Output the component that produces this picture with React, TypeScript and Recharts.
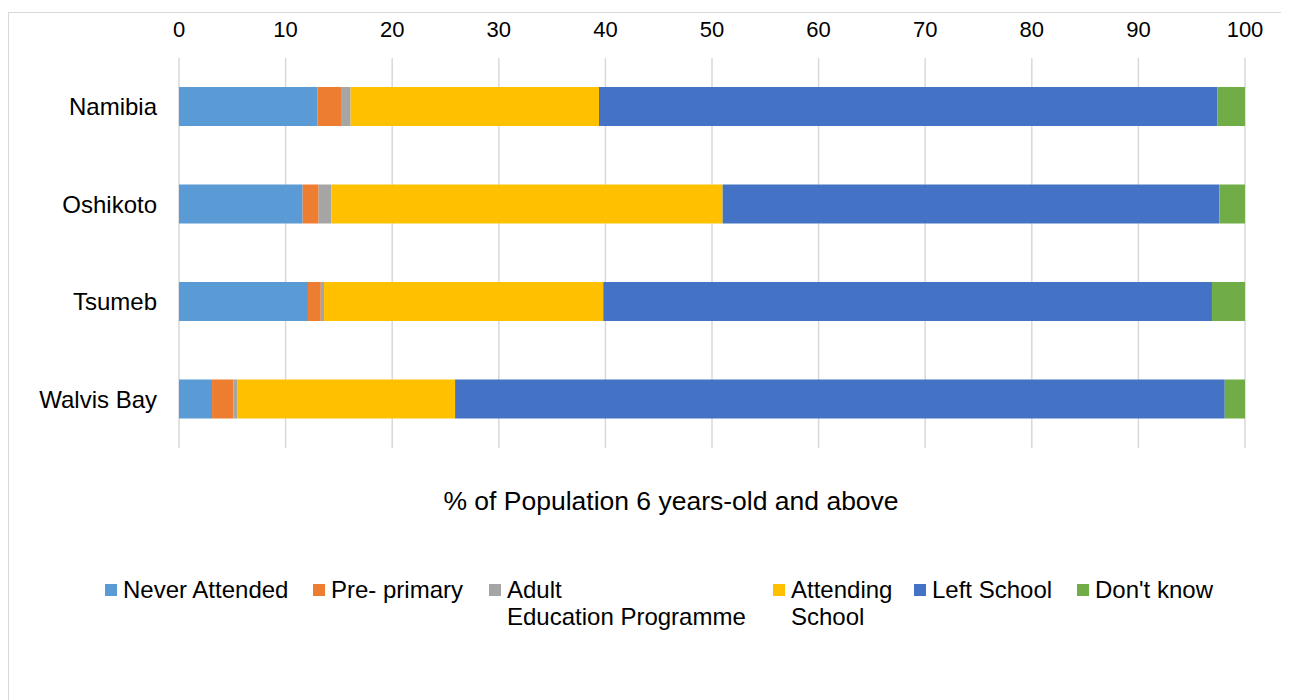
import React from "react";
import {Bar, BarChart, CartesianGrid, Legend, XAxis, YAxis} from "recharts";

const regions = ["Namibia", "Oshikoto", "Tsumeb", "Walvis Bay"];
const neverAttended = [13.0, 11.6, 12.1, 3.1];
const prePrimary = [2.2, 1.5, 1.2, 2.0];
const adultEducation = [0.9, 1.2, 0.3, 0.4];
const attendingSchool = [23.3, 36.7, 26.2, 20.4];
const leftSchool = [58.0, 46.6, 57.1, 72.2];
const dontKnow = [2.6, 2.4, 3.1, 1.9];

const seriesNames = ["Never Attended", "Pre- primary", "Adult Education Programme", "Attending School", "Left School", "Don't know"];
const legendLabels = ["Never Attended", "Pre- primary", "Adult\nEducation Programme", "Attending\nSchool", "Left School", "Don't know"];
const xTicks = [0, 10, 20, 30, 40, 50, 60, 70, 80, 90, 100];
const axisTitle = "% of Population 6 years-old and above";

const colors = ["#5B9BD5", "#ED7D31", "#A5A5A5", "#FFC000", "#4472C4", "#70AD47"];
const keys = ["never", "pre", "adult", "attending", "left", "dontKnow"];
const legendItemWidths = [208, 176, 284, 141, 163, 140];

const chartData = regions.map((region, i) => ({
    region,
    never: neverAttended[i],
    pre: prePrimary[i],
    adult: adultEducation[i],
    attending: attendingSchool[i],
    left: leftSchool[i],
    dontKnow: dontKnow[i]
}));

const FONT = '"Liberation Sans", Arial, sans-serif';

const LegendContent = () => (
    <div style={{display: "flex", fontFamily: FONT, fontSize: 24, lineHeight: "27px", color: "#000"}}>
        {legendLabels.map((label, i) => (
            <div key={keys[i]} style={{display: "flex", alignItems: "flex-start", width: legendItemWidths[i]}}>
                <span style={{width: 12, height: 12, marginTop: 8, marginRight: 6, background: colors[i], flex: "none"}}/>
                <span style={{whiteSpace: "pre-line"}}>{label}</span>
            </div>
        ))}
    </div>
)

const App = () => {
    return (
        <div style={{paddingTop: 4}}>
            <style>{"html,body{overflow:hidden}"}</style>
            <div style={{position: "relative", width: 1281, height: 688, overflow: "hidden", fontFamily: FONT}}>
                <div style={{
                    position: "absolute", left: 0, top: 0, width: 1320, height: 720,
                    border: "1px solid #d9d9d9", boxSizing: "border-box"
                }}/>
                <div style={{position: "absolute", left: 1, top: 1}}>
                    <BarChart width={1280} height={687} data={chartData} layout="vertical"
                              margin={{top: 0, right: 44, bottom: 252, left: 0}} barSize={39}>
                        <CartesianGrid horizontal={false} stroke="#d9d9d9" strokeWidth={1.5}/>
                        <XAxis type="number" orientation="top" domain={[0, 100]} ticks={xTicks} height={45}
                               axisLine={false} tickLine={false} tickSize={0} tickMargin={21}
                               interval={0} allowDataOverflow
                               tick={{fill: "#000", fontSize: 22, fontFamily: FONT}}/>
                        <YAxis type="category" dataKey="region" width={170} axisLine={false} tickLine={false}
                               tickSize={0} tickMargin={22}
                               tick={{fill: "#000", fontSize: 24, fontFamily: FONT}}/>
                        {keys.map((k, i) => (
                            <Bar key={k} dataKey={k} name={seriesNames[i]} stackId="a" fill={colors[i]}
                                 isAnimationActive={false}/>
                        ))}
                        <Legend layout="horizontal" verticalAlign="middle" align="center"
                                wrapperStyle={{left: 96, top: 563, width: 1150}}
                                content={<LegendContent/>}/>
                    </BarChart>
                </div>
                <div style={{
                    position: "absolute", left: 663 - 300, top: 476, width: 600, textAlign: "center",
                    fontSize: 26.5, lineHeight: "26px", color: "#000"
                }}>
                    {axisTitle}
                </div>
            </div>
        </div>
    )
}

export default App
